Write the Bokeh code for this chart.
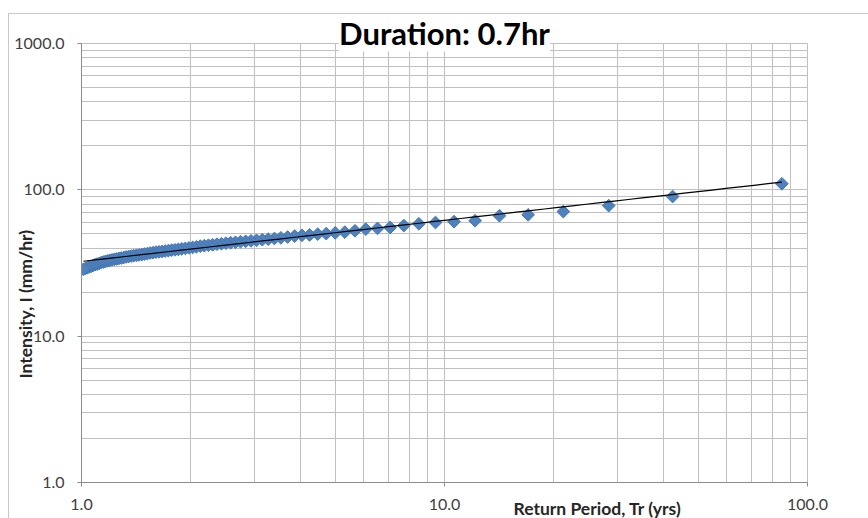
import math
from bokeh.plotting import figure
from bokeh.models import FixedTicker, PrintfTickFormatter, Title, ColumnDataSource
from bokeh.embed import file_html
from bokeh.resources import INLINE

# Return periods (years), plotting positions
return_period = [85.0, 42.5, 28.333, 21.25, 17.0, 14.167, 12.143, 10.625, 9.444, 8.5,
                 7.727, 7.083, 6.538, 6.071, 5.667, 5.313, 5.0, 4.722, 4.474, 4.25,
                 4.048, 3.864, 3.696, 3.542, 3.4, 3.269, 3.148, 3.036, 2.931, 2.833,
                 2.742, 2.656, 2.576, 2.5, 2.429, 2.361, 2.297, 2.237, 2.179, 2.125,
                 2.073, 2.024, 1.977, 1.932, 1.889, 1.848, 1.809, 1.771, 1.735, 1.7,
                 1.667, 1.635, 1.604, 1.574, 1.545, 1.518, 1.491, 1.466, 1.441, 1.417,
                 1.393, 1.371, 1.349, 1.328, 1.308, 1.288, 1.269, 1.25, 1.232, 1.214,
                 1.197, 1.181, 1.164, 1.149, 1.133, 1.118, 1.104, 1.090, 1.076, 1.063,
                 1.049, 1.037, 1.024, 1.012]
# Intensity (mm/hr)
intensity = [110.0, 90.0, 78.0, 71.0, 67.5, 66.5, 61.5, 60.6, 59.8, 58.6,
             57.0, 55.3, 54.5, 53.9, 52.5, 51.4, 50.8, 50.2, 49.8, 49.2,
             48.9, 48.3, 47.6, 47.0, 46.5, 46.0, 45.6, 45.2, 44.8, 44.5,
             44.2, 43.8, 43.5, 43.2, 42.8, 42.5, 42.1, 41.8, 41.5, 41.2,
             40.8, 40.4, 40.1, 39.8, 39.5, 39.2, 38.9, 38.7, 38.4, 38.2,
             37.9, 37.7, 37.5, 37.2, 37.0, 36.7, 36.4, 36.1, 35.9, 35.7,
             35.5, 35.3, 35.0, 34.8, 34.5, 34.2, 34.0, 33.7, 33.5, 33.2,
             33.0, 32.7, 32.4, 32.1, 31.8, 31.4, 31.1, 30.8, 30.4, 30.0,
             29.7, 29.3, 29.0, 28.6]
# Power trendline I = a * T^b (as drawn)
trend_a = 32.4
trend_b = 0.281

x_ticks = [1, 10, 100]
y_ticks = [1, 10, 100, 1000]
minor_x = [2, 3, 4, 5, 6, 7, 8, 9, 20, 30, 40, 50, 60, 70, 80, 90]
minor_y = [2, 3, 4, 5, 6, 7, 8, 9, 20, 30, 40, 50, 60, 70, 80, 90,
           200, 300, 400, 500, 600, 700, 800, 900]

p = figure(width=860, height=505, x_axis_type="log", y_axis_type="log",
           x_range=(1, 100), y_range=(1, 1000),
           output_backend="svg", toolbar_location=None,
           min_border_left=72, min_border_right=62, min_border_top=29, min_border_bottom=37)
p.margin = (13, 0, 0, 8)
p.styles = {"border-left": "1px solid #c8c8c8", "border-top": "1px solid #c8c8c8"}

grid_col = "#c0c0c0"
for ax, ticks, minor in ((p.xaxis[0], x_ticks, minor_x), (p.yaxis[0], y_ticks, minor_y)):
    ax.ticker = FixedTicker(ticks=ticks, minor_ticks=minor)
    ax.formatter = PrintfTickFormatter(format="%.1f")
    ax.major_label_text_font = "Lato"
    ax.major_label_text_font_size = "16px"
    ax.major_label_text_color = "#404040"
    ax.axis_line_color = "#8c8c8c"
    ax.major_tick_line_color = "#8c8c8c"
    ax.major_tick_out = 4
    ax.major_tick_in = 0
    ax.minor_tick_line_color = None
p.xaxis.major_label_standoff = 12
p.yaxis.major_label_standoff = 13

for g in (p.xgrid[0], p.ygrid[0]):
    g.grid_line_color = grid_col
    g.minor_grid_line_color = grid_col
p.outline_line_color = grid_col

src = ColumnDataSource(dict(T=return_period, I=intensity))
p.scatter("T", "I", source=src, marker="square", angle=math.pi / 4, size=9,
          fill_color="#4f81bd", line_color="#4677b3", line_width=1)

t_lo, t_hi = min(return_period), max(return_period)
tl_x = [t_lo * (t_hi / t_lo) ** (k / 50) for k in range(51)]
tl_y = [trend_a * t ** trend_b for t in tl_x]
p.line(tl_x, tl_y, line_color="black", line_width=1.2)

p.title = Title(text="Duration: 0.7hr", text_font="Lato", text_font_style="bold",
                text_font_size="31px", text_color="#000000", align="center",
                standoff=-16, background_fill_color="white")
p.add_layout(Title(text="Intensity, I (mm/hr)", text_font="Lato", text_font_style="bold",
                   text_font_size="17.5px", text_color="#262626", align="left",
                   offset=104, standoff=-49), "left")
p.add_layout(Title(text="Return Period, Tr (yrs)", text_font="Lato", text_font_style="bold",
                   text_font_size="17.5px", text_color="#262626", align="left",
                   vertical_align="top", offset=432, standoff=-29), "below")

open("out.html", "w").write(file_html(p, INLINE))
